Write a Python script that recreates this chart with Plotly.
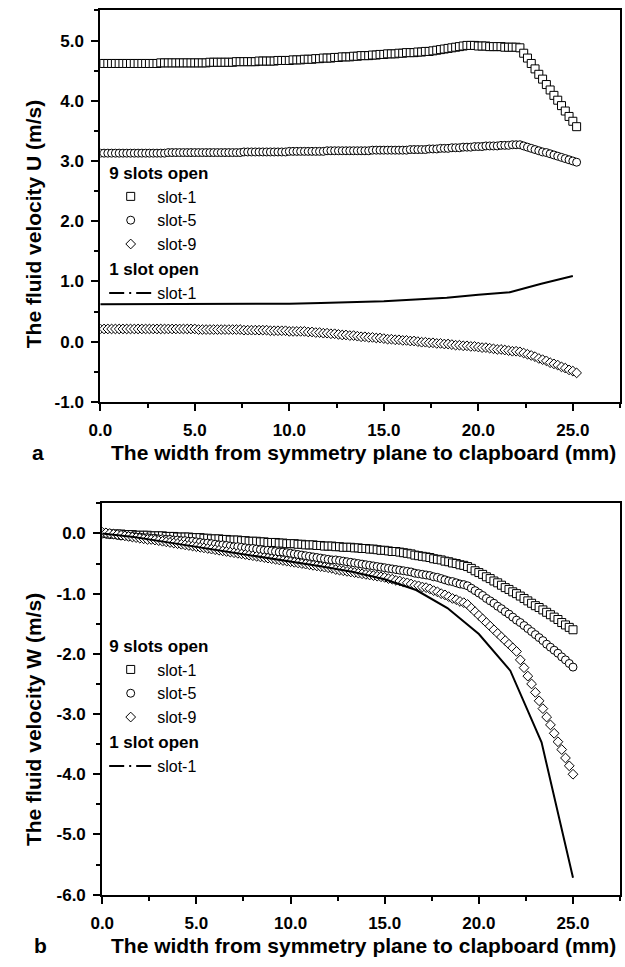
import plotly.graph_objects as go

# ---------------- data ----------------
X_TOP = [0.0, 0.2, 0.4, 0.6, 0.8, 1.0, 1.2, 1.4, 1.6, 1.8,
         2.0, 2.2, 2.4, 2.6, 2.8, 3.0, 3.2, 3.4, 3.6, 3.8,
         4.0, 4.2, 4.4, 4.6, 4.8, 5.0, 5.2, 5.4, 5.6, 5.8,
         6.0, 6.2, 6.4, 6.6, 6.8, 7.0, 7.2, 7.4, 7.6, 7.8,
         8.0, 8.2, 8.4, 8.6, 8.8, 9.0, 9.2, 9.4, 9.6, 9.8,
         10.0, 10.2, 10.4, 10.6, 10.8, 11.0, 11.2, 11.4, 11.6, 11.8,
         12.0, 12.2, 12.4, 12.6, 12.8, 13.0, 13.2, 13.4, 13.6, 13.8,
         14.0, 14.2, 14.4, 14.6, 14.8, 15.0, 15.2, 15.4, 15.6, 15.8,
         16.0, 16.2, 16.4, 16.6, 16.8, 17.0, 17.2, 17.4, 17.6, 17.8,
         18.0, 18.2, 18.4, 18.6, 18.8, 19.0, 19.2, 19.4, 19.6, 19.8,
         20.0, 20.2, 20.4, 20.6, 20.8, 21.0, 21.2, 21.4, 21.6, 21.8,
         22.0, 22.2, 22.4, 22.6, 22.8, 23.0, 23.2, 23.4, 23.6, 23.8,
         24.0, 24.2, 24.4, 24.6, 24.8, 25.0, 25.2]

U_SLOT1 = [4.62, 4.62, 4.62, 4.62, 4.62, 4.62, 4.62, 4.62, 4.62, 4.62,
           4.62, 4.62, 4.62, 4.62, 4.62, 4.62, 4.63, 4.63, 4.63, 4.63,
           4.63, 4.63, 4.63, 4.63, 4.63, 4.63, 4.63, 4.63, 4.63, 4.64,
           4.64, 4.64, 4.64, 4.64, 4.64, 4.64, 4.65, 4.65, 4.65, 4.65,
           4.65, 4.65, 4.66, 4.66, 4.66, 4.66, 4.66, 4.67, 4.67, 4.67,
           4.67, 4.68, 4.68, 4.68, 4.69, 4.69, 4.69, 4.70, 4.70, 4.71,
           4.71, 4.71, 4.72, 4.72, 4.73, 4.73, 4.73, 4.74, 4.74, 4.75,
           4.75, 4.75, 4.76, 4.76, 4.77, 4.77, 4.78, 4.78, 4.78, 4.79,
           4.79, 4.80, 4.80, 4.80, 4.81, 4.81, 4.82, 4.82, 4.83, 4.84,
           4.85, 4.86, 4.87, 4.88, 4.89, 4.90, 4.91, 4.92, 4.92, 4.92,
           4.91, 4.91, 4.91, 4.90, 4.90, 4.90, 4.90, 4.89, 4.89, 4.89,
           4.89, 4.88, 4.79, 4.71, 4.62, 4.53, 4.44, 4.36, 4.27, 4.18,
           4.09, 4.01, 3.92, 3.83, 3.74, 3.66, 3.57]

U_SLOT5 = [3.13, 3.13, 3.13, 3.13, 3.13, 3.13, 3.13, 3.13, 3.13, 3.13,
           3.13, 3.13, 3.13, 3.13, 3.13, 3.13, 3.13, 3.13, 3.14, 3.14,
           3.14, 3.14, 3.14, 3.14, 3.14, 3.14, 3.14, 3.14, 3.14, 3.14,
           3.14, 3.14, 3.14, 3.14, 3.14, 3.14, 3.14, 3.14, 3.15, 3.15,
           3.15, 3.15, 3.15, 3.15, 3.15, 3.15, 3.15, 3.15, 3.15, 3.15,
           3.16, 3.16, 3.16, 3.16, 3.16, 3.16, 3.16, 3.16, 3.16, 3.16,
           3.17, 3.17, 3.17, 3.17, 3.17, 3.17, 3.17, 3.17, 3.17, 3.17,
           3.17, 3.17, 3.18, 3.18, 3.18, 3.18, 3.18, 3.18, 3.18, 3.18,
           3.18, 3.18, 3.19, 3.19, 3.19, 3.19, 3.19, 3.20, 3.20, 3.20,
           3.21, 3.21, 3.21, 3.22, 3.22, 3.22, 3.23, 3.23, 3.23, 3.24,
           3.24, 3.24, 3.25, 3.25, 3.25, 3.25, 3.26, 3.26, 3.26, 3.27,
           3.27, 3.27, 3.25, 3.23, 3.21, 3.19, 3.17, 3.15, 3.14, 3.12,
           3.10, 3.08, 3.06, 3.04, 3.02, 3.00, 2.98]

U_SLOT9 = [0.21, 0.21, 0.21, 0.21, 0.21, 0.21, 0.21, 0.21, 0.21, 0.21,
           0.21, 0.21, 0.21, 0.21, 0.21, 0.21, 0.21, 0.21, 0.21, 0.21,
           0.21, 0.21, 0.21, 0.21, 0.21, 0.21, 0.20, 0.20, 0.20, 0.20,
           0.20, 0.20, 0.20, 0.20, 0.20, 0.20, 0.20, 0.20, 0.19, 0.19,
           0.19, 0.19, 0.19, 0.19, 0.19, 0.18, 0.18, 0.18, 0.18, 0.18,
           0.17, 0.17, 0.17, 0.17, 0.17, 0.16, 0.16, 0.15, 0.15, 0.14,
           0.14, 0.13, 0.13, 0.12, 0.11, 0.11, 0.10, 0.10, 0.09, 0.08,
           0.08, 0.07, 0.07, 0.06, 0.06, 0.05, 0.04, 0.04, 0.03, 0.03,
           0.02, 0.02, 0.01, 0.01, 0.00, -0.01, -0.01, -0.02, -0.02, -0.03,
           -0.03, -0.04, -0.04, -0.05, -0.06, -0.06, -0.07, -0.07, -0.08, -0.08,
           -0.09, -0.10, -0.10, -0.11, -0.12, -0.13, -0.13, -0.14, -0.15, -0.16,
           -0.16, -0.17, -0.19, -0.21, -0.23, -0.25, -0.28, -0.30, -0.32, -0.35,
           -0.37, -0.39, -0.42, -0.44, -0.47, -0.49, -0.52]

X_LINE = [0.0, 1.67, 3.33, 5.0, 6.67, 8.33, 10.0, 11.67,
          13.33, 15.0, 16.67, 18.33, 20.0, 21.67, 23.33, 25.0]
U_LINE = [0.62, 0.62, 0.62, 0.62, 0.62, 0.63, 0.63, 0.64,
          0.65, 0.67, 0.70, 0.73, 0.78, 0.82, 0.96, 1.09]

X_BOT = [0.0, 0.2, 0.4, 0.6, 0.8, 1.0, 1.2, 1.4, 1.6, 1.8,
         2.0, 2.2, 2.4, 2.6, 2.8, 3.0, 3.2, 3.4, 3.6, 3.8,
         4.0, 4.2, 4.4, 4.6, 4.8, 5.0, 5.2, 5.4, 5.6, 5.8,
         6.0, 6.2, 6.4, 6.6, 6.8, 7.0, 7.2, 7.4, 7.6, 7.8,
         8.0, 8.2, 8.4, 8.6, 8.8, 9.0, 9.2, 9.4, 9.6, 9.8,
         10.0, 10.2, 10.4, 10.6, 10.8, 11.0, 11.2, 11.4, 11.6, 11.8,
         12.0, 12.2, 12.4, 12.6, 12.8, 13.0, 13.2, 13.4, 13.6, 13.8,
         14.0, 14.2, 14.4, 14.6, 14.8, 15.0, 15.2, 15.4, 15.6, 15.8,
         16.0, 16.2, 16.4, 16.6, 16.8, 17.0, 17.2, 17.4, 17.6, 17.8,
         18.0, 18.2, 18.4, 18.6, 18.8, 19.0, 19.2, 19.4, 19.6, 19.8,
         20.0, 20.2, 20.4, 20.6, 20.8, 21.0, 21.2, 21.4, 21.6, 21.8,
         22.0, 22.2, 22.4, 22.6, 22.8, 23.0, 23.2, 23.4, 23.6, 23.8,
         24.0, 24.2, 24.4, 24.6, 24.8, 25.0]

W_SLOT1 = [0.00, 0.00, -0.01, -0.01, -0.01, -0.01, -0.02, -0.02, -0.02, -0.03,
           -0.03, -0.03, -0.03, -0.04, -0.04, -0.04, -0.04, -0.05, -0.05, -0.05,
           -0.06, -0.06, -0.06, -0.06, -0.07, -0.07, -0.07, -0.08, -0.08, -0.09,
           -0.09, -0.09, -0.10, -0.10, -0.11, -0.11, -0.11, -0.12, -0.12, -0.13,
           -0.13, -0.13, -0.14, -0.14, -0.15, -0.15, -0.15, -0.16, -0.16, -0.17,
           -0.17, -0.17, -0.18, -0.18, -0.19, -0.19, -0.19, -0.20, -0.20, -0.21,
           -0.21, -0.21, -0.22, -0.22, -0.23, -0.23, -0.23, -0.24, -0.24, -0.25,
           -0.25, -0.26, -0.26, -0.27, -0.28, -0.28, -0.29, -0.30, -0.30, -0.31,
           -0.32, -0.33, -0.34, -0.36, -0.37, -0.38, -0.39, -0.40, -0.42, -0.43,
           -0.44, -0.46, -0.47, -0.49, -0.50, -0.52, -0.53, -0.55, -0.58, -0.62,
           -0.65, -0.68, -0.72, -0.75, -0.79, -0.82, -0.86, -0.90, -0.93, -0.97,
           -1.00, -1.04, -1.08, -1.12, -1.16, -1.20, -1.23, -1.27, -1.31, -1.35,
           -1.39, -1.43, -1.48, -1.52, -1.56, -1.60]

W_SLOT5 = [-0.01, -0.01, -0.02, -0.02, -0.03, -0.04, -0.04, -0.05, -0.05, -0.06,
           -0.06, -0.07, -0.07, -0.08, -0.08, -0.09, -0.09, -0.10, -0.10, -0.11,
           -0.11, -0.12, -0.12, -0.13, -0.13, -0.14, -0.15, -0.16, -0.16, -0.17,
           -0.18, -0.19, -0.19, -0.20, -0.21, -0.22, -0.22, -0.23, -0.24, -0.25,
           -0.25, -0.26, -0.27, -0.28, -0.28, -0.29, -0.30, -0.31, -0.31, -0.32,
           -0.33, -0.34, -0.35, -0.36, -0.37, -0.38, -0.39, -0.40, -0.41, -0.42,
           -0.43, -0.44, -0.44, -0.45, -0.46, -0.47, -0.48, -0.49, -0.50, -0.51,
           -0.52, -0.53, -0.54, -0.55, -0.56, -0.57, -0.58, -0.59, -0.60, -0.61,
           -0.62, -0.63, -0.64, -0.66, -0.67, -0.68, -0.69, -0.70, -0.72, -0.73,
           -0.75, -0.77, -0.79, -0.80, -0.82, -0.84, -0.85, -0.87, -0.91, -0.95,
           -0.99, -1.03, -1.08, -1.12, -1.16, -1.21, -1.25, -1.30, -1.34, -1.39,
           -1.44, -1.48, -1.53, -1.58, -1.63, -1.68, -1.73, -1.78, -1.84, -1.89,
           -1.94, -1.99, -2.05, -2.10, -2.16, -2.22]

W_SLOT9 = [0.02, 0.01, 0.00, -0.01, -0.02, -0.03, -0.04, -0.05, -0.06, -0.07,
           -0.08, -0.09, -0.10, -0.10, -0.11, -0.12, -0.13, -0.14, -0.15, -0.16,
           -0.17, -0.18, -0.19, -0.20, -0.21, -0.22, -0.23, -0.24, -0.25, -0.26,
           -0.27, -0.28, -0.29, -0.30, -0.31, -0.32, -0.33, -0.34, -0.35, -0.36,
           -0.37, -0.38, -0.39, -0.40, -0.41, -0.42, -0.43, -0.44, -0.45, -0.46,
           -0.47, -0.48, -0.49, -0.50, -0.51, -0.52, -0.53, -0.54, -0.55, -0.56,
           -0.57, -0.58, -0.60, -0.61, -0.62, -0.63, -0.64, -0.65, -0.66, -0.67,
           -0.68, -0.69, -0.70, -0.71, -0.72, -0.73, -0.75, -0.76, -0.78, -0.79,
           -0.81, -0.82, -0.84, -0.86, -0.87, -0.89, -0.90, -0.92, -0.95, -0.97,
           -1.00, -1.02, -1.05, -1.08, -1.10, -1.13, -1.15, -1.18, -1.24, -1.30,
           -1.36, -1.42, -1.48, -1.54, -1.60, -1.66, -1.72, -1.78, -1.84, -1.90,
           -1.96, -2.10, -2.23, -2.37, -2.50, -2.64, -2.78, -2.91, -3.05, -3.18,
           -3.32, -3.46, -3.59, -3.73, -3.86, -4.00]

W_LINE = [0.00, -0.06, -0.14, -0.22, -0.30, -0.38, -0.47, -0.55,
          -0.64, -0.76, -0.94, -1.24, -1.67, -2.28, -3.47, -5.72]

SERIES_NAMES = ["slot-1", "slot-5", "slot-9", "slot-1"]
GROUP_TITLES = ["9 slots open", "1 slot open"]
X_TITLE = "The width from symmetry plane to clapboard (mm)"
Y_TITLES = ["The fluid velocity U (m/s)", "The fluid velocity W (m/s)"]
PANEL_LABELS = ["a", "b"]

X_TICKS = [0, 5, 10, 15, 20, 25]
X_TICK_LABELS = ["0.0", "5.0", "10.0", "15.0", "20.0", "25.0"]
U_TICKS = [-1, 0, 1, 2, 3, 4, 5]
U_TICK_LABELS = ["-1.0", "0.0", "1.0", "2.0", "3.0", "4.0", "5.0"]
W_TICKS = [-6, -5, -4, -3, -2, -1, 0]
W_TICK_LABELS = ["-6.0", "-5.0", "-4.0", "-3.0", "-2.0", "-1.0", "0.0"]

# ---------------- figure ----------------
FONT = "Liberation Sans, Arial, sans-serif"
fig = go.Figure()

def add_panel(xs, ys_list, xl, yl, xa, ya, leg, gp):
    symbols = ["square", "circle", "diamond"]
    sizes = [8, 8, 7.5]
    for k in range(3):
        fig.add_trace(go.Scatter(
            x=xs, y=ys_list[k], mode="markers", xaxis=xa, yaxis=ya,
            name=SERIES_NAMES[k], legend=leg, legendgroup=gp + "9",
            legendgrouptitle=dict(text=GROUP_TITLES[0],
                                  font=dict(family=FONT, size=17, color="black",
                                            weight="bold")) if k == 0 else None,
            marker=dict(symbol=symbols[k], size=sizes[k], color="white",
                        line=dict(color="black", width=1)),
        ))
    fig.add_trace(go.Scatter(
        x=xl, y=yl, mode="lines", xaxis=xa, yaxis=ya, showlegend=False,
        line=dict(color="black", width=2), name=SERIES_NAMES[3],
    ))
    fig.add_trace(go.Scatter(
        x=[None], y=[None], mode="lines", xaxis=xa, yaxis=ya,
        name=SERIES_NAMES[3], legend=leg, legendgroup=gp + "1",
        legendgrouptitle=dict(text=GROUP_TITLES[1],
                              font=dict(family=FONT, size=17, color="black",
                                        weight="bold")),
        line=dict(color="black", width=2, dash="15px,5px,2px,5px"),
    ))

add_panel(X_TOP, [U_SLOT1, U_SLOT5, U_SLOT9], X_LINE, U_LINE, "x", "y", "legend", "t")
add_panel(X_BOT, [W_SLOT1, W_SLOT5, W_SLOT9], X_LINE, W_LINE, "x2", "y2", "legend2", "b")

W, H = 625, 967

def xax(l, r, anchor):
    return dict(domain=[l / W, r / W], range=[0, 27.5], anchor=anchor,
                tickvals=X_TICKS, ticktext=X_TICK_LABELS,
                showgrid=False, zeroline=False,
                showline=True, linecolor="black", linewidth=2, mirror=True,
                ticks="outside", ticklen=7, tickwidth=1.5, tickcolor="black",
                minor=dict(dtick=2.5, tick0=0, ticks="outside", ticklen=4,
                           tickwidth=1.5, tickcolor="black", showgrid=False),
                tickfont=dict(family=FONT, size=17, color="black", weight="bold"),
                ticklabelstandoff=5)

def yax(lo, hi, bottom_px, top_px, anchor, tv, tt):
    return dict(domain=[1 - bottom_px / H, 1 - top_px / H], range=[lo, hi],
                anchor=anchor, tickvals=tv, ticktext=tt,
                showgrid=False, zeroline=False,
                showline=True, linecolor="black", linewidth=2, mirror=True,
                ticks="outside", ticklen=7, tickwidth=1.5, tickcolor="black",
                minor=dict(dtick=0.5, tick0=0, ticks="outside", ticklen=4,
                           tickwidth=1.5, tickcolor="black", showgrid=False),
                tickfont=dict(family=FONT, size=17, color="black", weight="bold"),
                ticklabelstandoff=4)

leg_common = dict(xanchor="left", yanchor="top", bgcolor="rgba(0,0,0,0)",
                  font=dict(family=FONT, size=16, color="black"),
                  traceorder="grouped", tracegroupgap=0, itemwidth=43,
                  borderwidth=0, itemclick=False)

annos = []
for txt, xp, yp, ang in [(X_TITLE, 358, 457, 0), (X_TITLE, 358, 955, 0),
                         (Y_TITLES[0], 22, 226, -90), (Y_TITLES[1], 22, 727, -90),
                         (PANEL_LABELS[0], 26, 457, 0), (PANEL_LABELS[1], 29, 955, 0)]:
    annos.append(dict(text=txt, x=xp / W, y=1 - yp / H, xref="paper", yref="paper",
                      xanchor="center", yanchor="middle", showarrow=False,
                      textangle=ang,
                      font=dict(family=FONT, size=21, color="black", weight="bold")))

fig.update_layout(
    width=W, height=H, autosize=False,
    margin=dict(l=0, r=0, t=0, b=0, pad=0),
    paper_bgcolor="white", plot_bgcolor="white",
    xaxis=xax(90, 620, "y"), yaxis=yax(-1, 5.5, 406, 10.6, "x", U_TICKS, U_TICK_LABELS),
    xaxis2=xax(92, 620, "y2"),
    yaxis2=yax(-6, 0.5, 904, 508.6, "x2", W_TICKS, W_TICK_LABELS),
    legend=dict(x=94 / W, y=1 - 156 / H, **leg_common),
    legend2=dict(x=94 / W, y=1 - 634 / H, **leg_common),
    annotations=annos,
)

fig.write_html("out.html")
